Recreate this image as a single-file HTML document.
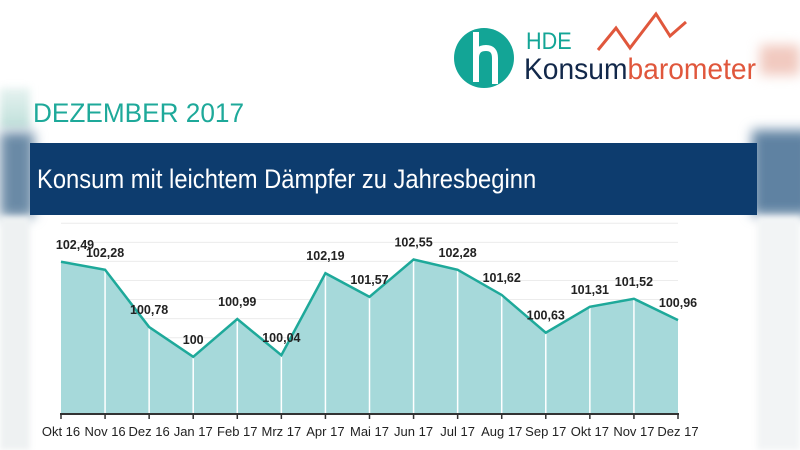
<!DOCTYPE html>
<html><head><meta charset="utf-8"><style>
body{margin:0;width:800px;height:450px;overflow:hidden;background:#fff;font-family:"Liberation Sans",sans-serif;position:relative}
.abs{position:absolute}
</style></head><body>
<div class="abs" style="left:0;top:88px;width:30px;height:40px;background:linear-gradient(#e6f2f0,#bfe0da);filter:blur(4px)"></div>
<div class="abs" style="left:0;top:132px;width:34px;height:85px;background:#6a8aa6;filter:blur(6px)"></div>
<div class="abs" style="left:752px;top:130px;width:60px;height:85px;background:#5f82a2;filter:blur(6px)"></div>
<div class="abs" style="left:760px;top:45px;width:40px;height:30px;background:#f1c9bf;filter:blur(6px)"></div>
<div class="abs" style="left:0;top:217px;width:30px;height:233px;background:#eef1f2;filter:blur(3px)"></div>
<div class="abs" style="left:757px;top:217px;width:43px;height:233px;background:#f2f4f5;filter:blur(3px)"></div>

<svg class="abs" style="left:452px;top:26px" width="64" height="64" viewBox="0 0 64 64">
<circle cx="32" cy="32" r="30" fill="#13a596"/>
<path d="M24 6 V56 M24 32 Q24 22 34 22 Q43 22 43 32 V58" stroke="#fff" stroke-width="6" fill="none"/>
</svg>
<div class="abs" style="left:526px;top:28px;font-size:24px;color:#13a596;transform:scaleX(0.9);transform-origin:left">HDE</div>
<svg class="abs" style="left:594px;top:8px" width="100" height="50"><polyline points="4,42 22,20 36,40 62,6 76,28 92,14" fill="none" stroke="#e0573c" stroke-width="3"/></svg>
<div class="abs" style="left:524px;top:53px;font-size:30px;color:#12284a;transform:scaleX(0.94);transform-origin:left;white-space:nowrap">Konsum<span style="color:#e0573c">barometer</span></div>

<div class="abs" style="left:33px;top:98px;font-size:27px;color:#1ea99a;transform:scaleX(0.97);transform-origin:left">DEZEMBER 2017</div>
<div class="abs" style="left:30px;top:143px;width:727px;height:72px;background:#0d3c6e"></div>
<div class="abs" style="left:37px;top:164px;font-size:27px;color:#fff;transform:scaleX(0.88);transform-origin:left;white-space:nowrap">Konsum mit leichtem Dämpfer zu Jahresbeginn</div>

<svg id="chart" class="abs" style="left:0;top:0" width="800" height="450"></svg>
<script>
const categories=["Okt 16","Nov 16","Dez 16","Jan 17","Feb 17","Mrz 17","Apr 17","Mai 17","Jun 17","Jul 17","Aug 17","Sep 17","Okt 17","Nov 17","Dez 17"];
const values=[102.49,102.28,100.78,100,100.99,100.04,102.19,101.57,102.55,102.28,101.62,100.63,101.31,101.52,100.96];
const valueLabels=["102,49","102,28","100,78","100","100,99","100,04","102,19","101,57","102,55","102,28","101,62","100,63","101,31","101,52","100,96"];
const yMin=98.5, yMax=103.5;
const svg=document.getElementById('chart');
const NS="http://www.w3.org/2000/svg";
const x0=61,x1=678,yb=414,ppu=38.15;
const xs=i=>x0+i*(x1-x0)/(categories.length-1);
const ys=v=>yb-(v-yMin)*ppu;
function mk(t,a){const e=document.createElementNS(NS,t);for(const k in a)e.setAttribute(k,a[k]);svg.appendChild(e);return e;}
for(let g=yMin+0.5;g<=yMax+0.01;g+=0.5){
 const l=mk('line',{x1:x0,x2:x1,y1:ys(g),y2:ys(g),stroke:'#ececec','stroke-width':1});
 
 
}
let d=`M${xs(0)},${yb}`;values.forEach((v,i)=>d+=` L${xs(i)},${ys(v)}`);d+=` L${xs(values.length-1)},${yb}Z`;
const area=mk('path',{d:d,fill:'#a6d9da'});


values.forEach((v,i)=>{if(i>0&&i<values.length-1){
 const l=mk('line',{x1:xs(i),x2:xs(i),y1:ys(v),y2:yb,stroke:'#fff','stroke-width':1.5});
 
 
}});
const line=mk('polyline',{points:values.map((v,i)=>xs(i)+','+ys(v)).join(' '),fill:'none',stroke:'#1ea99a','stroke-width':2.5});


const ax=mk('line',{x1:x0-1,x2:x1+1,y1:yb,y2:yb,stroke:'#333','stroke-width':2});


categories.forEach((c,i)=>{
 const t=mk('line',{x1:xs(i),x2:xs(i),y1:yb,y2:yb+5,stroke:'#333','stroke-width':1.5});
 
 
 const tx=mk('text',{x:xs(i),y:yb+22,'text-anchor':'middle','font-size':13,fill:'#222'});
 tx.textContent=c;
 
 
 const vl=mk('text',{x:xs(i)+(i===0?14:0),y:ys(values[i])-13,'text-anchor':'middle','font-size':12.5,'font-weight':'bold',fill:'#222'});
 vl.textContent=valueLabels[i];
 
 
});
</script>
</body></html>
